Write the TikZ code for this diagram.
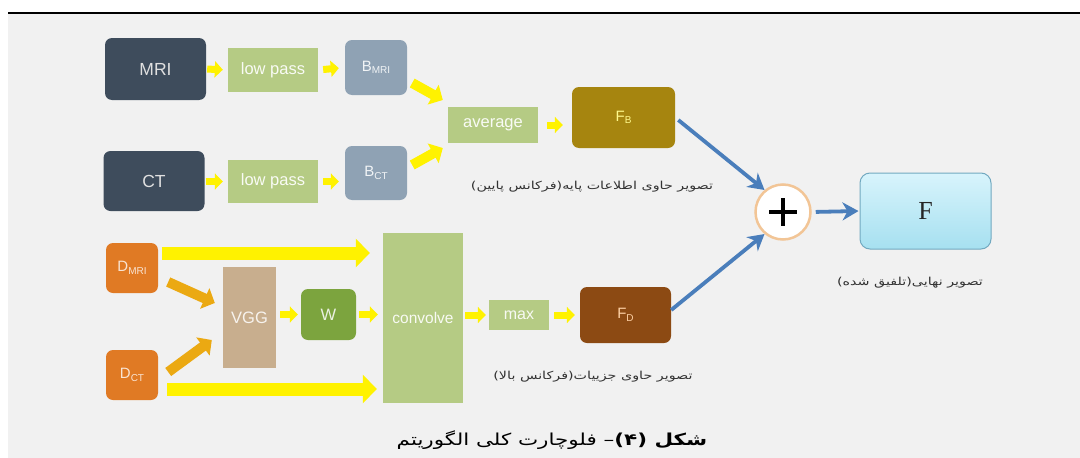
\documentclass[tikz,border=0pt]{standalone}
\usepackage{fontspec}
\setmainfont{Liberation Sans}
\newfontfamily\fa[Script=Arabic, FakeStretch=1.3]{DejaVu Sans}
\newfontfamily\serifF{Liberation Serif}
\TeXXeTstate=1
\usetikzlibrary{arrows.meta,calc}
\definecolor{bggrey}{HTML}{F1F1F1}
\definecolor{slate}{HTML}{3E4C5C}
\definecolor{lgreen}{HTML}{B5CB84}
\definecolor{bblue}{HTML}{8FA2B4}
\definecolor{olive}{HTML}{A6850F}
\definecolor{brownD}{HTML}{8C4A13}
\definecolor{orangeD}{HTML}{E07A24}
\definecolor{tan}{HTML}{C8AE8E}
\definecolor{wgreen}{HTML}{7CA43E}
\definecolor{yel}{HTML}{FFF200}
\definecolor{amber}{HTML}{EBA912}
\definecolor{blueA}{HTML}{4A7EBB}
\definecolor{ringC}{HTML}{F2C596}
\definecolor{ftop}{HTML}{D8F4FC}
\definecolor{fbot}{HTML}{A6E0F0}
\definecolor{fborder}{HTML}{72A9C0}
\definecolor{captxt}{HTML}{333333}
\newcommand{\subt}[1]{\raisebox{-0.3ex}{\fontsize{10}{11}\selectfont #1}}
\begin{document}
\begin{tikzpicture}[x=1pt,y=-1pt,
  box/.style={inner sep=0pt, anchor=center, font=\fontsize{16.5}{18}\selectfont},
  rbox/.style={box, rounded corners=7pt},
  yarr/.style={yel, line width=7pt, -{Triangle[length=8pt,width=16pt]}},
  darr/.style={line width=10pt, -{Triangle[length=11pt,width=22pt]}},
  bigy/.style={yel, line width=13pt, -{Triangle[length=14pt,width=28pt]}},
  barr/.style={blueA, line width=3.8pt, -{Stealth[length=16pt,width=18pt,inset=5pt]}},
  captext/.style={text=captxt, font=\fa\fontsize{11}{13}\selectfont, inner sep=0pt}]
\useasboundingbox (0,0) rectangle (1080,458);
\fill[white] (0,0) rectangle (1080,458);
\fill[bggrey] (8,14) rectangle (1080,458);
\draw[line width=2.2pt] (8,13) -- (1080,13);

% nodes
\node[rbox, fill=slate, text=white!88!black, minimum width=101pt, minimum height=62pt, font=\fontsize{17.5}{19}\selectfont] (mri) at (155.5,69) {MRI};
\node[box, fill=lgreen, text=white!92!lgreen, minimum width=90pt, minimum height=44pt] (lp1) at (273,70) {low pass};
\node[rbox, fill=bblue, text=white!88!bblue, minimum width=62pt, minimum height=55pt, font=\fontsize{15}{17}\selectfont] (bmri) at (376,67.5) {B\subt{MRI}};
\node[rbox, fill=slate, text=white!88!black, minimum width=101pt, minimum height=60pt, font=\fontsize{17.5}{19}\selectfont] (ct) at (154,181) {CT};
\node[box, fill=lgreen, text=white!92!lgreen, minimum width=90pt, minimum height=43pt] (lp2) at (273,181.5) {low pass};
\node[rbox, fill=bblue, text=white!88!bblue, minimum width=62pt, minimum height=54pt, font=\fontsize{15}{17}\selectfont] (bct) at (376,173) {B\subt{CT}};
\node[box, fill=lgreen, text=white!92!lgreen, minimum width=90pt, minimum height=36pt] (avg) at (493,125) {average};
\node[rbox, fill=olive, text=yellow!45!white, minimum width=103pt, minimum height=61pt, font=\fontsize{15}{17}\selectfont] (fb) at (623.5,117.5) {F\subt{B}};
\node[rbox, fill=orangeD, text=white!80!orangeD, minimum width=52pt, minimum height=50pt, font=\fontsize{15}{17}\selectfont] (dmri) at (132,268) {D\subt{MRI}};
\node[rbox, fill=orangeD, text=white!80!orangeD, minimum width=52pt, minimum height=50pt, font=\fontsize{15}{17}\selectfont] (dct) at (132,375) {D\subt{CT}};
\node[box, fill=tan, text=white!85!tan, minimum width=53pt, minimum height=101pt] (vgg) at (249.5,317.5) {VGG};
\node[rbox, fill=wgreen, text=white!85!wgreen, minimum width=55pt, minimum height=51pt] (w) at (328.5,314.5) {W};
\node[box, fill=lgreen, text=white!90!lgreen, minimum width=80pt, minimum height=170pt, font=\fontsize{15.5}{17}\selectfont] (conv) at (423,318) {convolve};
\node[box, fill=lgreen, text=white!90!lgreen, minimum width=60pt, minimum height=30pt, font=\fontsize{16}{17}\selectfont] (max) at (519,315) {max};
\node[rbox, fill=brownD, text=orange!35!white, minimum width=91pt, minimum height=56pt, font=\fontsize{15}{17}\selectfont] (fd) at (625.5,315) {F\subt{D}};
\node[circle, draw=ringC, line width=2.5pt, fill=white, minimum size=55pt, inner sep=0pt] (plus) at (783,212) {};
\draw[line width=3.8pt] ($(plus.center)+(-14,0)$) -- ($(plus.center)+(14,0)$);
\draw[line width=3.8pt] ($(plus.center)+(0,-14)$) -- ($(plus.center)+(0,14)$);
\node[rbox, rounded corners=10pt, draw=fborder, line width=1pt, top color=ftop, bottom color=fbot, minimum width=131pt, minimum height=76pt, text=black!85, font=\serifF\fontsize{26}{28}\selectfont] (fbox) at (925.5,211) {F};

% captions
\node[captext] (capB) at (592,187) {\beginR تصویر حاوی اطلاعات پایه(فرکانس پایین)\endR};
\node[captext] (capD) at (593,377) {\beginR تصویر حاوی جزییات(فرکانس بالا)\endR};
\node[captext] (capF) at (910,283) {\beginR تصویر نهایی(تلفیق شده)\endR};
\node[inner sep=0pt, font=\fa\fontsize{16.5}{19}\selectfont] (main) at (552,440) {\beginR{\bfseries شکل (۴)}– فلوچارت کلی الگوریتم\endR};

% small yellow arrows
\draw[yarr, shorten <=1pt, shorten >=5pt] (mri.east) -- (lp1.west);
\draw[yarr, shorten <=5pt, shorten >=6pt] (lp1.east) -- (bmri.west);
\draw[yarr, shorten <=1pt, shorten >=5pt] (ct.east |- lp2.west) -- (lp2.west);
\draw[yarr, shorten <=5pt, shorten >=6pt] (lp2.east) -- (lp2.east -| bct.west);
\draw[yarr, shorten <=9pt, shorten >=9pt] (avg.east) -- (avg.east -| fb.west);
\draw[yarr, shorten <=4pt, shorten >=3pt] (vgg.east |- w.west) -- (w.west);
\draw[yarr, shorten <=3pt, shorten >=5pt] (w.east) -- (w.east -| conv.west);
\draw[yarr, shorten <=2pt, shorten >=3pt] (conv.east |- max.west) -- (max.west);
\draw[yarr, shorten <=5pt, shorten >=5pt] (max.east) -- (fd.west);

% diagonal yellow arrows to average
\draw[darr, yel] ($(bmri.east)+(5,15.5)$) -- ($(avg.west)+(-5,-25)$);
\draw[darr, yel] ($(bct.east)+(5,-8)$) -- ($(avg.west)+(-5,23)$);

% orange arrows into VGG
\draw[darr, amber] ($(dmri.east)+(10,14)$) -- ($(vgg.west)+(-8,-14.5)$);
\draw[darr, amber] ($(dct.east)+(10,-3)$) -- ($(vgg.west)+(-11,22.5)$);

% big yellow arrows to convolve
\draw[bigy] ($(dmri.east)+(4,-15)$) -- ($(conv.west)+(-13,-65)$);
\draw[bigy] ($(dct.east)+(9,14)$) -- ($(conv.west)+(-6,71)$);

% blue arrows
\draw[barr, shorten <=4pt] (fb.east) -- (plus.130);
\draw[barr] ($(fd.east)+(0,-5)$) -- (plus.230);
\draw[barr, shorten <=4pt, shorten >=1pt] (plus.east) -- (fbox.west);
\end{tikzpicture}
\end{document}
